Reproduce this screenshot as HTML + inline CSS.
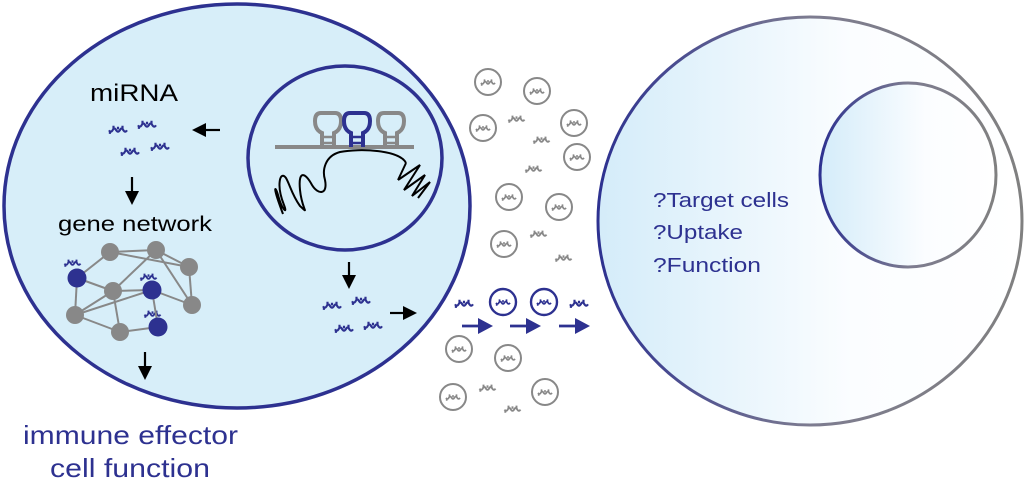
<!DOCTYPE html>
<html><head><meta charset="utf-8"><style>html,body{margin:0;padding:0;background:#fff}svg{display:block}</style></head>
<body>
<svg width="1024" height="487" viewBox="0 0 1024 487" xmlns="http://www.w3.org/2000/svg" font-family="'Liberation Sans', sans-serif">
<defs>
<symbol id="mi" viewBox="0 0 20 10" overflow="visible">
<path d="M0,7 q2,3 4,0 M4,7 q2,-4 4,0 q2,3 4,0 q2,-4 4,0 q2,3 4,0 M5,5 v-3 M10,6 v-3 M15,5 v-3 M1,8 v3" fill="none" stroke="currentColor" stroke-width="2.4"/>
</symbol>
<linearGradient id="rg" x1="0" x2="1" y1="0" y2="0">
<stop offset="0" stop-color="#d4ecf9"/><stop offset="0.6" stop-color="#fbfdff"/><stop offset="1" stop-color="#fff"/></linearGradient>
<linearGradient id="rs" x1="0" x2="1" y1="0" y2="0">
<stop offset="0" stop-color="#2d3190"/><stop offset="0.5" stop-color="#7d7c90"/><stop offset="1" stop-color="#808080"/></linearGradient>
<g id="ves"><circle r="13" fill="#fff" stroke="#888" stroke-width="2"/><use href="#mi" x="-7" y="-4" width="14" height="7" color="#888"/></g>
<g id="vesb"><circle r="13" fill="#fff" stroke="#2d3190" stroke-width="2.4"/><use href="#mi" x="-7" y="-4" width="14" height="7" color="#2d3190"/></g>
<g id="hp"><path d="M-6,35 v-14 q-7,-3 -7,-12 q0,-8 6,-8 h14 q6,0 6,8 q0,9 -7,12 v14" fill="none" stroke-width="4"/>
<path d="M-6,25 h12 M-6,31 h12" stroke-width="2.5"/></g>
</defs>

<ellipse cx="237" cy="206" rx="233" ry="202" fill="#d7eef9" stroke="#2d3190" stroke-width="3.5"/>
<ellipse cx="345" cy="158" rx="97" ry="92" fill="#d7eef9" stroke="#2d3190" stroke-width="3.5"/>

<line x1="275" y1="147" x2="414" y2="147" stroke="#888" stroke-width="4"/>
<use href="#hp" x="328" y="112" stroke="#888"/>
<use href="#hp" x="357" y="112" stroke="#2d3190"/>
<use href="#hp" x="391" y="112" stroke="#888"/>
<g fill="none" stroke="#000" stroke-width="2">
<path d="M406,163 C400,150 360,148 340,152 C325,156 322,170 325,180 C328,195 318,195 312,185 C305,172 298,170 300,190 C302,210 310,215 300,206 C292,195 290,185 286,178 C280,170 276,185 284,205 C288,215 282,210 278,195 C275,185 272,185 283,214"/>
<path d="M406,163 L398,180 M398,180 L420,165 L404,190 L425,175 L412,196 L430,182 L418,198"/>
</g>

<text x="90" y="101" font-size="24" fill="#000" textLength="88" lengthAdjust="spacingAndGlyphs">miRNA</text>
<text x="58" y="231" font-size="21" fill="#000" textLength="154" lengthAdjust="spacingAndGlyphs">gene network</text>
<text x="23" y="444" font-size="26" fill="#2d3190" textLength="215" lengthAdjust="spacingAndGlyphs">immune effector</text>
<text x="50" y="477" font-size="26" fill="#2d3190" textLength="160" lengthAdjust="spacingAndGlyphs">cell function</text>

<g color="#2d3190">
<use href="#mi" x="109" y="124" width="18" height="9"/>
<use href="#mi" x="138" y="119" width="18" height="9"/>
<use href="#mi" x="121" y="146" width="18" height="9"/>
<use href="#mi" x="151" y="141" width="18" height="9"/>
<use href="#mi" x="323" y="300" width="18" height="9"/>
<use href="#mi" x="352" y="295" width="18" height="9"/>
<use href="#mi" x="335" y="323" width="18" height="9"/>
<use href="#mi" x="364" y="320" width="18" height="9"/>
<use href="#mi" x="64" y="258" width="17" height="8"/>
<use href="#mi" x="140" y="272" width="17" height="8"/>
<use href="#mi" x="144" y="309" width="17" height="8"/>
<use href="#mi" x="455" y="298" width="18" height="9"/>
<use href="#mi" x="570" y="298" width="18" height="9"/>
<use href="#mi" x="662" y="298" width="18" height="9"/>
<use href="#mi" x="695" y="296" width="18" height="9"/>
<use href="#mi" x="682" y="317" width="18" height="9"/>
<use href="#mi" x="703" y="321" width="18" height="9"/>
</g>

<g stroke="#000" stroke-width="2.2">
<line x1="205" y1="130" x2="220" y2="130"/>
<line x1="132" y1="177" x2="132" y2="192"/>
<line x1="145" y1="352" x2="145" y2="368"/>
<line x1="349" y1="262" x2="349" y2="276"/>
<line x1="390" y1="313" x2="404" y2="313"/>
</g>
<g fill="#000">
<polygon points="192,130 206,123 206,137"/>
<polygon points="125,191 139,191 132,205"/>
<polygon points="138,366 152,366 145,380"/>
<polygon points="342,275 356,275 349,289"/>
<polygon points="403,306 403,320 417,313"/>
</g>
<g stroke="#2d3190" stroke-width="2.8">
<line x1="462" y1="326" x2="480" y2="326"/>
<line x1="510" y1="326" x2="528" y2="326"/>
<line x1="559" y1="326" x2="577" y2="326"/>
</g>
<g fill="#2d3190">
<polygon points="478,318 478,334 493,326"/>
<polygon points="526,318 526,334 541,326"/>
<polygon points="575,318 575,334 590,326"/>
</g>

<g stroke="#888" stroke-width="2">
<line x1="110" y1="252" x2="156" y2="250"/><line x1="110" y1="252" x2="77" y2="278"/>
<line x1="156" y1="250" x2="189" y2="267"/><line x1="156" y1="250" x2="113" y2="291"/>
<line x1="110" y1="252" x2="189" y2="267"/><line x1="156" y1="250" x2="192" y2="305"/>
<line x1="189" y1="267" x2="192" y2="305"/><line x1="77" y1="278" x2="113" y2="291"/>
<line x1="77" y1="278" x2="75" y2="315"/><line x1="113" y1="291" x2="152" y2="290"/>
<line x1="152" y1="290" x2="192" y2="305"/><line x1="113" y1="291" x2="75" y2="315"/>
<line x1="113" y1="291" x2="120" y2="332"/><line x1="75" y1="315" x2="152" y2="290"/>
<line x1="75" y1="315" x2="120" y2="332"/><line x1="120" y1="332" x2="158" y2="327"/>
<line x1="152" y1="290" x2="158" y2="327"/>
</g>
<g fill="#888">
<circle cx="110" cy="252" r="9"/><circle cx="156" cy="250" r="9"/><circle cx="189" cy="267" r="9"/>
<circle cx="113" cy="291" r="9"/><circle cx="192" cy="305" r="9"/><circle cx="75" cy="315" r="9"/><circle cx="120" cy="332" r="9"/>
</g>
<g fill="#2d3190"><circle cx="77" cy="278" r="9.5"/><circle cx="152" cy="290" r="9.5"/><circle cx="158" cy="327" r="9.5"/></g>

<ellipse cx="810" cy="221" rx="212" ry="204" fill="url(#rg)" stroke="url(#rs)" stroke-width="3"/>
<ellipse cx="908" cy="175" rx="88" ry="92" fill="url(#rg)" stroke="url(#rs)" stroke-width="3"/>
<text x="653" y="207" font-size="20" fill="#2d3190" textLength="136" lengthAdjust="spacingAndGlyphs">?Target cells</text>
<text x="653" y="239" font-size="20" fill="#2d3190" textLength="90" lengthAdjust="spacingAndGlyphs">?Uptake</text>
<text x="653" y="272" font-size="20" fill="#2d3190" textLength="108" lengthAdjust="spacingAndGlyphs">?Function</text>

<use href="#ves" x="488" y="82"/><use href="#ves" x="537" y="91"/><use href="#ves" x="483" y="128"/>
<use href="#ves" x="574" y="123"/><use href="#ves" x="577" y="157"/><use href="#ves" x="509" y="197"/>
<use href="#ves" x="559" y="207"/><use href="#ves" x="504" y="244"/>
<use href="#vesb" x="503" y="302"/><use href="#vesb" x="544" y="302"/>
<use href="#ves" x="459" y="349"/><use href="#ves" x="508" y="358"/><use href="#ves" x="453" y="397"/><use href="#ves" x="545" y="392"/>
<g color="#888">
<use href="#mi" x="508" y="114" width="17" height="8"/><use href="#mi" x="533" y="135" width="17" height="8"/>
<use href="#mi" x="525" y="164" width="17" height="8"/><use href="#mi" x="530" y="229" width="17" height="8"/>
<use href="#mi" x="555" y="253" width="17" height="8"/><use href="#mi" x="479" y="383" width="17" height="8"/>
<use href="#mi" x="504" y="404" width="17" height="8"/>
</g>
</svg>
</body></html>
